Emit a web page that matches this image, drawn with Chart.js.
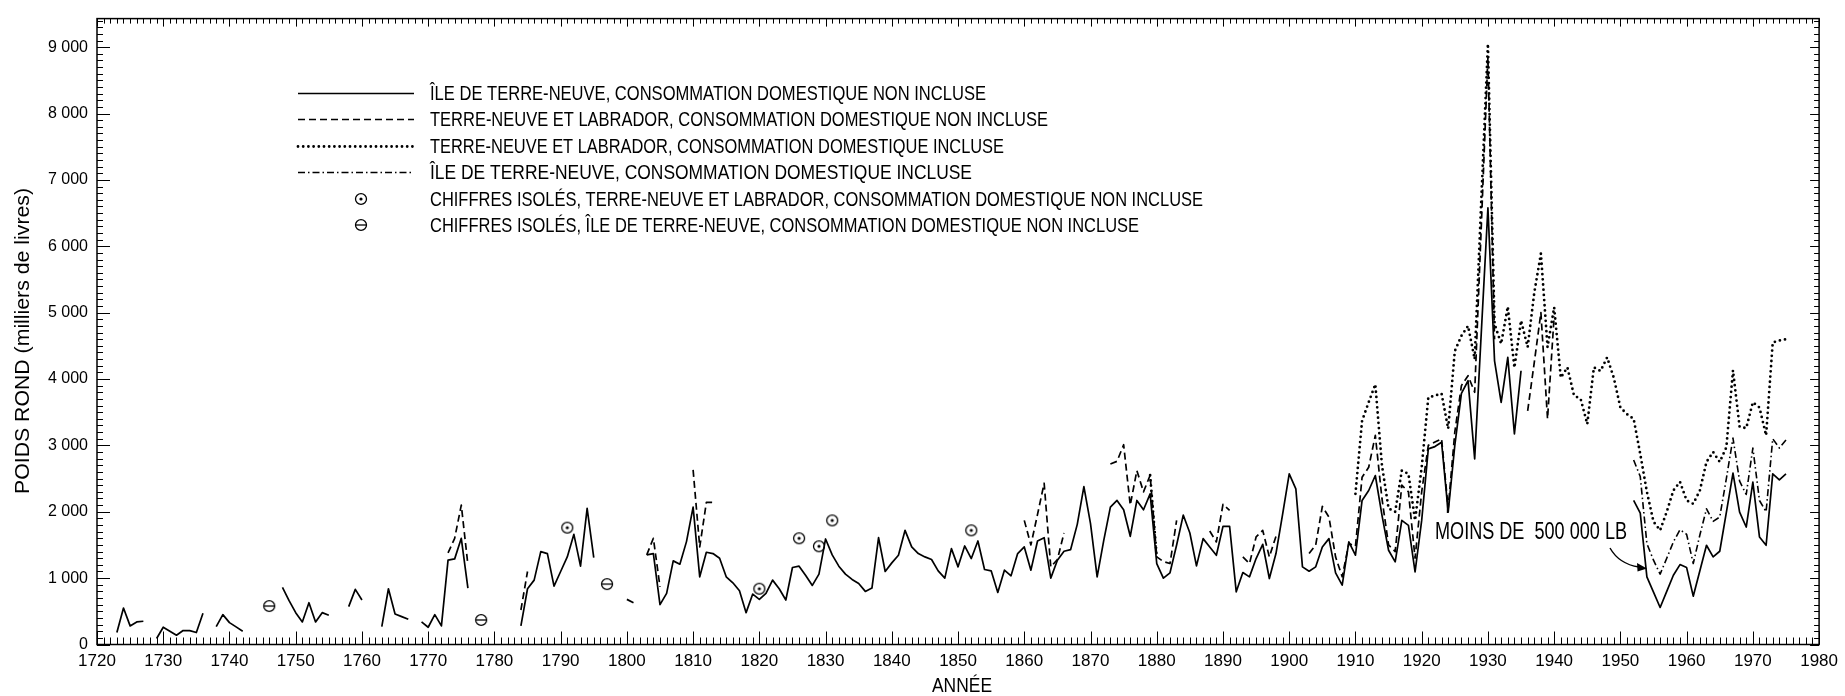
<!DOCTYPE html>
<html><head><meta charset="utf-8">
<script src="https://cdn.jsdelivr.net/npm/chart.js@4.4.1/dist/chart.umd.min.js"></script>
<style>html,body{margin:0;padding:0;background:#fff;}canvas{display:block;}</style>
</head><body>
<canvas id="c" width="1845" height="696"></canvas>
<script>
// ---------- DATA (thousands of lb, round weight) ----------
// Île de Terre-Neuve, consommation domestique non incluse (solid) – starts 1720
const ileNonInclStart = 1720;
const ileNonIncl = [
  null,null,null,180,550,280,340,350,null,90,          // 1720s
  260,200,140,210,210,180,470,null,270,450,            // 1730s
  330,265,200,null,null,null,null,null,860,660,        // 1740s
  480,340,630,340,480,440,null,null,570,830,           // 1750s
  670,null,null,270,840,460,420,380,null,340,          // 1760s
  260,450,280,1270,1290,1600,850,null,null,null,       // 1770s
  null,null,null,null,280,840,970,1400,1370,880,       // 1780s
  1100,1320,1660,1180,2050,1310,null,null,null,null,   // 1790s
  680,630,null,1350,1370,600,770,1260,1210,1550,       // 1800s
  2070,1020,1390,1370,1300,1020,930,810,480,760,       // 1810s
  680,770,970,840,670,1160,1180,1040,890,1060,         // 1820s
  1590,1350,1180,1060,980,920,800,850,1610,1100,       // 1830s
  1230,1345,1720,1470,1370,1320,1280,1110,1000,1445,   // 1840s
  1170,1485,1295,1560,1130,1110,785,1120,1035,1370,    // 1850s
  1470,1120,1560,1610,1000,1270,1405,1430,1810,2380,   // 1860s
  1820,1020,1570,2070,2170,2030,1630,2170,2030,2270,   // 1870s
  1220,1000,1080,1500,1950,1680,1185,1595,1470,1345,   // 1880s
  1780,1780,794,1084,1019,1295,1510,994,1370,1961,     // 1890s
  2572,2346,1170,1104,1170,1470,1595,1079,894,1545,    // 1900s
  1345,2170,2320,2546,1950,1420,1245,1870,1795,1094,   // 1910s
  1870,2947,2982,3047,1995,3000,3783,3974,2797,4700,   // 1920s
  6578,4274,3648,4325,3172,4124,null,null,null,null,   // 1930s
  null,null,null,null,null,null,null,null,null,null,   // 1940s
  null,null,2171,1980,1020,790,558,800,1044,1204,      // 1950s
  1159,728,1110,1495,1320,1405,1990,2581,1995,1770,    // 1960s
  2446,1620,1495,2571,2481,2571                        // 1970s
];
// Terre-Neuve et Labrador, consommation domestique non incluse (dashed) – starts 1770
const tnlNonInclStart = 1770;
const tnlNonIncl = [
  null,null,null,1380,1600,2100,1200,null,null,null,   // 1770s
  null,null,null,null,520,1100,null,null,null,null,    // 1780s
  null,null,null,null,null,null,null,null,null,null,   // 1790s
  null,null,null,1350,1600,870,null,null,null,null,    // 1800s
  2630,1470,2140,2140,null,null,null,null,null,null,   // 1810s
  null,null,null,null,null,null,null,null,null,null,   // 1820s
  null,null,null,null,null,null,null,null,null,null,   // 1830s
  null,null,null,null,null,null,null,null,null,null,   // 1840s
  null,null,null,null,null,null,null,null,null,null,   // 1850s
  1870,1500,1960,2430,1170,1280,1680,null,null,null,   // 1860s
  null,null,null,2720,2760,3010,2100,2620,2300,2550,   // 1870s
  1320,1250,1220,1870,null,null,null,null,1710,1545,   // 1880s
  2110,2020,null,1320,1220,1620,1720,1320,1630,null,   // 1890s
  null,null,null,1370,1500,2080,1920,1320,1020,1520,   // 1900s
  1480,2520,2670,3150,2200,1500,1400,2400,2300,1300,   // 1910s
  2300,3000,3050,3100,2050,3200,3900,4050,3800,6300,   // 1920s
  8850,4600,null,null,null,null,3520,4250,5000,3400,   // 1930s
  4950                                                 // 1940
];
// Terre-Neuve et Labrador, consommation domestique incluse (dotted) – starts 1870
const tnlInclStart = 1870;
const tnlIncl = [
  null,null,null,null,null,null,null,null,null,2550,   // 1870s
  1320,null,null,null,null,null,null,null,null,null,   // 1880s
  null,null,null,null,null,null,null,null,null,null,   // 1890s
  null,null,null,null,null,null,null,null,null,null,   // 1900s
  2270,3370,3650,3920,2700,2050,2000,2620,2570,1870,   // 1910s
  2670,3720,3750,3780,3250,4420,4650,4800,4300,6700,   // 1920s
  9050,4830,4530,5090,4170,4880,4480,5300,5890,4480,   // 1930s
  5080,4020,4175,3750,3700,3320,4175,4120,4325,4020,   // 1940s
  3570,3470,3400,2870,2300,1850,1720,2000,2320,2450,   // 1950s
  2170,2120,2320,2750,2900,2750,2970,4130,3280,3260,   // 1960s
  3650,3570,3150,4550,4580,4600                        // 1970s
];
// Île de Terre-Neuve, consommation domestique incluse (dot-dash) – starts 1950
const ileInclStart = 1950;
const ileIncl = [
  null,null,2780,2530,1520,1270,1060,1300,1545,1730,   // 1950s
  1660,1220,1650,2045,1855,1920,2500,3110,2460,2260,   // 1960s
  2960,2170,2000,3100,2960,3080                        // 1970s
];
// Isolated figures
const isolTnlYears  = [1791, 1820, 1826, 1829, 1831, 1852];
const isolTnlValues = [1760,  840, 1600, 1480, 1870, 1720];
const isolIleYears  = [1746, 1778, 1797];
const isolIleValues = [ 580,  370,  910];
// Axis ticks
const xTickYears  = [1720,1730,1740,1750,1760,1770,1780,1790,1800,1810,1820,1830,1840,1850,1860,1870,1880,1890,1900,1910,1920,1930,1940,1950,1960,1970,1980];
const yTickValues = [0,1000,2000,3000,4000,5000,6000,7000,8000,9000];
// Texts
const legendLabels = [
  'ÎLE DE TERRE-NEUVE, CONSOMMATION DOMESTIQUE NON INCLUSE',
  'TERRE-NEUVE ET LABRADOR, CONSOMMATION DOMESTIQUE NON INCLUSE',
  'TERRE-NEUVE ET LABRADOR, CONSOMMATION DOMESTIQUE INCLUSE',
  'ÎLE DE TERRE-NEUVE, CONSOMMATION DOMESTIQUE INCLUSE',
  'CHIFFRES ISOLÉS, TERRE-NEUVE ET LABRADOR, CONSOMMATION DOMESTIQUE NON INCLUSE',
  'CHIFFRES ISOLÉS, ÎLE DE TERRE-NEUVE, CONSOMMATION DOMESTIQUE NON INCLUSE'
];
const xTitle = 'ANNÉE';
const yTitle = 'POIDS ROND (milliers de livres)';
const noteText = 'MOINS DE  500 000 LB';

// ---------- helpers ----------
function toPoints(start, values) { return values.map((v, i) => ({ x: start + i, y: v })); }
function pairPoints(xs, ys) { return xs.map((x, i) => ({ x: x, y: ys[i] })); }
function makeMarker(kind) {
  const c = document.createElement('canvas'); c.width = 16; c.height = 16;
  const g = c.getContext('2d'); g.strokeStyle = '#000'; g.fillStyle = '#000'; g.lineWidth = 1.3;
  g.beginPath(); g.ellipse(8, 8, 5.5, 5.3, 0, 0, 2 * Math.PI); g.stroke();
  if (kind === 'dot') { g.beginPath(); g.arc(8, 8, 1.6, 0, 2 * Math.PI); g.fill(); }
  else { g.beginPath(); g.moveTo(2.6, 8); g.lineTo(13.4, 8); g.stroke(); }
  return c;
}
const dotMarker = makeMarker('dot');
const thetaMarker = makeMarker('theta');
const FONT = "'Liberation Sans', Arial, sans-serif";

const STY = {
  solid:   { borderDash: [],           borderWidth: 1.7, borderCapStyle: 'butt' },
  dashed:  { borderDash: [7, 4],       borderWidth: 1.7, borderCapStyle: 'butt' },
  dotted:  { borderDash: [0, 5.2],     borderWidth: 2.8, borderCapStyle: 'round' },
  dotdash: { borderDash: [7, 3, 1.5, 3], borderWidth: 1.6, borderCapStyle: 'butt' }
};

function condensed(ctx, text, x, y, size, targetW, align) {
  ctx.font = size + 'px ' + FONT;
  const w = ctx.measureText(text).width;
  const s = targetW / w;
  ctx.save(); ctx.translate(x, y); ctx.scale(s, 1);
  ctx.textBaseline = 'middle'; ctx.textAlign = align || 'left';
  ctx.fillText(text, 0, 0); ctx.restore();
}

const decor = {
  id: 'decor',
  afterDraw(chart) {
    const { ctx, chartArea: a, scales: { x, y } } = chart;
    ctx.save();
    ctx.strokeStyle = '#000'; ctx.fillStyle = '#000';
    // frame
    ctx.lineWidth = 1.5;
    ctx.strokeRect(a.left, a.top, a.right - a.left, a.bottom - a.top);
    // inward ticks
    ctx.lineWidth = 1; ctx.beginPath();
    for (let yr = 1720; yr <= 1980; yr++) {
      const px = Math.round(x.getPixelForValue(yr)) + 0.5;
      const major = yr % 10 === 0;
      ctx.moveTo(px, a.bottom); ctx.lineTo(px, a.bottom - (major ? 13 : 7));
      ctx.moveTo(px, a.top); ctx.lineTo(px, a.top + (major ? 8 : 5));
    }
    for (let v = 0; v <= 9400; v += 100) {
      const py = Math.round(y.getPixelForValue(v)) + 0.5;
      const major = v % 1000 === 0;
      ctx.moveTo(a.left, py); ctx.lineTo(a.left + (major ? 13 : 6), py);
      ctx.moveTo(a.right, py); ctx.lineTo(a.right - (major ? 9 : 5), py);
    }
    ctx.stroke();

    // legend
    const rowsY = [93, 119, 146, 172, 199, 225];
    const widths = [556, 618, 574, 542, 773, 709];
    const kinds = ['solid', 'dashed', 'dotted', 'dotdash'];
    for (let i = 0; i < 4; i++) {
      const st = STY[kinds[i]];
      ctx.save();
      ctx.lineWidth = st.borderWidth; ctx.setLineDash(st.borderDash); ctx.lineCap = st.borderCapStyle;
      ctx.beginPath(); ctx.moveTo(298, rowsY[i] + 0.5); ctx.lineTo(414, rowsY[i] + 0.5); ctx.stroke();
      ctx.restore();
    }
    ctx.drawImage(dotMarker, 361 - 8, rowsY[4] - 8);
    ctx.drawImage(thetaMarker, 361 - 8, rowsY[5] - 8);
    for (let i = 0; i < legendLabels.length; i++) {
      condensed(ctx, legendLabels[i], 430, rowsY[i] + 1, 21, widths[i], 'left');
    }

    // axis titles
    condensed(ctx, xTitle, 962, 686, 20, 60, 'center');
    ctx.save(); ctx.translate(23.5, 341); ctx.rotate(-Math.PI / 2);
    condensed(ctx, yTitle, 0, 0, 21, 306, 'center');
    ctx.restore();

    // annotation
    condensed(ctx, noteText, 1435, 532, 24, 192, 'left');
    ctx.lineWidth = 1.4; ctx.setLineDash([]);
    ctx.beginPath(); ctx.moveTo(1610, 548); ctx.quadraticCurveTo(1619, 564, 1639, 567); ctx.stroke();
    ctx.beginPath(); ctx.moveTo(1647, 568.5); ctx.lineTo(1637, 563); ctx.lineTo(1637.5, 571.5); ctx.closePath(); ctx.fill();
    ctx.beginPath(); ctx.moveTo(1447.5, 497); ctx.lineTo(1447.5, 513); ctx.stroke();
    ctx.restore();
  }
};

function lineDS(label, start, values, kind) {
  const st = STY[kind];
  return {
    type: 'line', label: label, data: toPoints(start, values),
    borderColor: '#000', backgroundColor: '#000',
    borderWidth: st.borderWidth, borderDash: st.borderDash, borderCapStyle: st.borderCapStyle,
    borderJoinStyle: 'round', pointRadius: 0, spanGaps: false, tension: 0, fill: false
  };
}

new Chart(document.getElementById('c'), {
  type: 'line',
  data: {
    datasets: [
      lineDS(legendLabels[0], ileNonInclStart, ileNonIncl, 'solid'),
      lineDS(legendLabels[1], tnlNonInclStart, tnlNonIncl, 'dashed'),
      lineDS(legendLabels[2], tnlInclStart, tnlIncl, 'dotted'),
      lineDS(legendLabels[3], ileInclStart, ileIncl, 'dotdash'),
      { type: 'scatter', label: legendLabels[4], data: pairPoints(isolTnlYears, isolTnlValues),
        pointStyle: dotMarker, showLine: false, borderColor: '#000', backgroundColor: '#000' },
      { type: 'scatter', label: legendLabels[5], data: pairPoints(isolIleYears, isolIleValues),
        pointStyle: thetaMarker, showLine: false, borderColor: '#000', backgroundColor: '#000' }
    ]
  },
  options: {
    responsive: false, animation: false, devicePixelRatio: 1,
    layout: { padding: { top: 17, right: 25, left: 0, bottom: 0 } },
    plugins: { legend: { display: false }, tooltip: { enabled: false } },
    scales: {
      x: {
        type: 'linear', min: 1720, max: 1980,
        afterFit(s) { s.height = 51.5; },
        afterBuildTicks(s) { s.ticks = xTickYears.map(v => ({ value: v })); },
        grid: { display: false, drawTicks: false }, border: { display: false },
        ticks: { padding: 7, color: '#000', font: { family: FONT, size: 17 }, maxRotation: 0, autoSkip: false,
                 callback: v => String(v) }
      },
      y: {
        type: 'linear', min: 0, max: 9430,
        afterFit(s) { s.width = 97; },
        afterBuildTicks(s) { s.ticks = yTickValues.map(v => ({ value: v })); },
        grid: { display: false, drawTicks: false }, border: { display: false },
        ticks: { padding: 9, color: '#000', font: { family: FONT, size: 16 },
                 callback: v => (v === 0 ? '0' : (v / 1000) + ' 000') }
      }
    }
  },
  plugins: [decor]
});
</script>
</body></html>
